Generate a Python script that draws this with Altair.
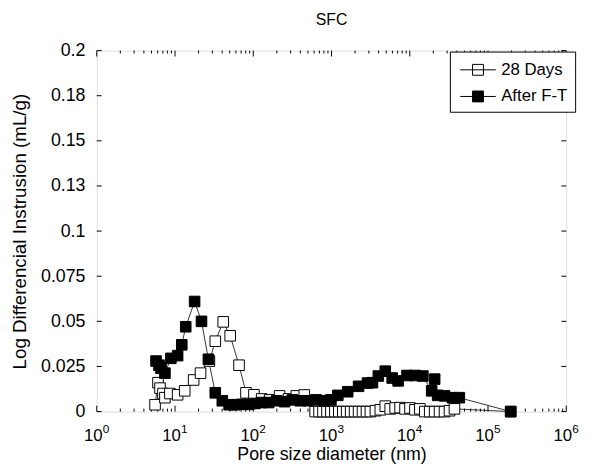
import altair as alt
import pandas as pd

# ---- data ----
D28_X = [5.56, 6.06, 6.43, 7.01, 7.43, 8.60, 10.8, 13.3, 17.3, 21.2, 27.5, 32.7, 41.3, 50.7,
         65.8, 80.7, 102, 128, 162, 217, 282, 355, 449, 617, 693, 778, 875, 982, 1104,
         1239, 1393, 1563, 1757, 1973, 2218, 2489, 2798, 3141, 3638, 4207, 4864, 5623,
         6503, 7520, 8697, 10060, 11640, 13460, 15560, 17990, 20800, 24050, 27810,
         32200, 37240, 195000]
D28_Y = [0.0038, 0.016, 0.013, 0.010, 0.0077, 0.010, 0.0093, 0.0115, 0.0175, 0.0213,
         0.028, 0.039, 0.0497, 0.042, 0.0257, 0.0104, 0.0093, 0.007, 0.0065, 0.0087,
         0.007, 0.0087, 0.0092, 0.0, 0.0, 0.0, 0.0, 0.0, 0.0, 0.0, 0.0, 0.0, 0.0, 0.0,
         0.0, 0.0, 0.0, 0.0, 0.0005, 0.001, 0.003, 0.0015, 0.002, 0.0022, 0.0015, 0.002,
         0.001, 0.0015, 0.0, 0.0, 0.0, 0.0, 0.0, 0.0005, 0.0015, 0.0]

FT_X = [5.72, 6.24, 6.62, 7.43, 8.85, 10.8, 12.2, 13.7, 17.8, 21.8, 26.7, 32.7, 40.2,
        49.2, 58.6, 71.8, 87.9, 105, 128, 157, 199, 251, 316, 399, 504, 635, 802, 982,
        1205, 1611, 2218, 2884, 3337, 3966, 4864, 5960, 7100, 9220, 11640, 14690,
        19050, 20800, 22700, 27800, 35100, 43000, 195000]
FT_Y = [0.028, 0.0257, 0.024, 0.0213, 0.0295, 0.031, 0.037, 0.047, 0.061, 0.050, 0.029,
        0.0104, 0.006, 0.0038, 0.0038, 0.004, 0.004, 0.0045, 0.005, 0.005, 0.006, 0.0055,
        0.0065, 0.006, 0.006, 0.0065, 0.006, 0.0065, 0.009, 0.011, 0.014, 0.0158, 0.016,
        0.0197, 0.0224, 0.0186, 0.017, 0.020, 0.020, 0.0197, 0.0115, 0.018, 0.009,
        0.0087, 0.0077, 0.0077, 0.0]

SERIES = ["28 Days", "After F-T"]
Y_TICKS = [0, 0.025, 0.05, 0.075, 0.1, 0.125, 0.15, 0.175, 0.2]
Y_TICK_LABELS = ["0", "0.025", "0.05", "0.075", "0.1", "0.13", "0.15", "0.18", "0.2"]
X_MAJOR = [1, 10, 100, 1000, 10000, 100000, 1000000]
X_EXPONENTS = ["0", "1", "2", "3", "4", "5", "6"]
X_MINOR = [m * 10 ** k for k in range(6) for m in range(2, 10)]

W, H = 476, 366
FONT = "Liberation Sans"

rows = []
for i, (x, y) in enumerate(zip(D28_X, D28_Y)):
    rows.append({"d": x, "v": y, "series": SERIES[0], "idx": i})
for i, (x, y) in enumerate(zip(FT_X, FT_Y)):
    rows.append({"d": x, "v": y, "series": SERIES[1], "idx": i})
df = pd.DataFrame(rows)

xscale = alt.Scale(type="log", domain=[1, 1e6], nice=False)
yscale = alt.Scale(domain=[0, 0.2], nice=False, zero=False)

ylab_expr = "[" + ",".join("'%s'" % s for s in Y_TICK_LABELS) + "][round(datum.value/0.025)]"

x_enc = alt.X("d:Q", scale=xscale, title="Pore size diameter (nm)",
              axis=alt.Axis(values=X_MAJOR, labelExpr="'10'", ticks=False, domain=False,
                            grid=False, labelFontSize=17, labelFont=FONT, labelColor="black",
                            labelPadding=16, labelOffset=-4, titleFontSize=18, titleFont=FONT,
                            titleFontWeight="normal", titleColor="black", titlePadding=3,
                            labelFlush=False))
y_enc = alt.Y("v:Q", scale=yscale, title="Log Differencial Instrusion (mL/g)",
              axis=alt.Axis(values=Y_TICKS, labelExpr=ylab_expr, ticks=False, domain=False,
                            grid=False, labelFontSize=18, labelFont=FONT, labelColor="black",
                            labelPadding=12, titleFontSize=19, titleFont=FONT,
                            titleFontWeight="normal", titleColor="black", titlePadding=11,
                            labelFlush=False))

lines = alt.Chart(df).mark_line(color="black", strokeWidth=0.8).encode(
    x=x_enc, y=y_enc, detail="series:N", order="idx:Q")

LEG_PATH = "M-1.64,0H1.64M-0.5,-0.5H0.5V0.5H-0.5Z"
points = alt.Chart(df).mark_point(shape="square", size=115, filled=True, stroke="black",
                                  strokeWidth=1, opacity=1).encode(
    x=alt.X("d:Q", scale=xscale),
    y=alt.Y("v:Q", scale=yscale),
    fill=alt.Fill("series:N", scale=alt.Scale(domain=SERIES, range=["white", "black"]),
                  legend=alt.Legend(title=None, orient="none", legendX=358, legendY=1,
                                    symbolType=LEG_PATH, symbolSize=484,
                                    symbolStrokeColor="black", symbolStrokeWidth=1,
                                    symbolOffset=10,
                                    labelFontSize=17, labelFont=FONT, labelColor="black",
                                    strokeColor="black", fillColor="white", padding=7,
                                    rowPadding=7, labelOffset=12)),
)

exp_df = pd.DataFrame({"t": X_MAJOR, "e": X_EXPONENTS})
exps = alt.Chart(exp_df).mark_text(align="left", baseline="top", fontSize=12, font=FONT,
                                   color="black", dx=6).encode(
    x=alt.X("t:Q", scale=xscale), y=alt.value(H + 13), text="e:N")

xmaj = pd.DataFrame({"t": X_MAJOR})
xmin = pd.DataFrame({"t": X_MINOR})
ytk = pd.DataFrame({"t": Y_TICKS})

def xticks(data, length):
    b = alt.Chart(data).mark_rule(color="black", strokeWidth=1)
    return [
        b.encode(x=alt.X("t:Q", scale=xscale), y=alt.value(H), y2=alt.value(H - length)),
        b.encode(x=alt.X("t:Q", scale=xscale), y=alt.value(0), y2=alt.value(length)),
    ]

yb = alt.Chart(ytk).mark_rule(color="black", strokeWidth=1)
yticks = [
    yb.encode(y=alt.Y("t:Q", scale=yscale), x=alt.value(0), x2=alt.value(5)),
    yb.encode(y=alt.Y("t:Q", scale=yscale), x=alt.value(W), x2=alt.value(W - 5)),
]

chart = alt.layer(lines, *xticks(xmaj, 6), *xticks(xmin, 3), *yticks, exps, points).properties(
    width=W, height=H,
    title=alt.TitleParams("SFC", fontSize=16, fontWeight="normal", font=FONT,
                          color="black", offset=14),
    autosize=alt.AutoSizeParams(type="none"),
    padding={"left": 90, "top": 40, "right": 19, "bottom": 53},
).configure_view(stroke="black", strokeWidth=1).configure(background="white")

chart.save("out.html", embed_options={"renderer": "svg", "actions": False})
